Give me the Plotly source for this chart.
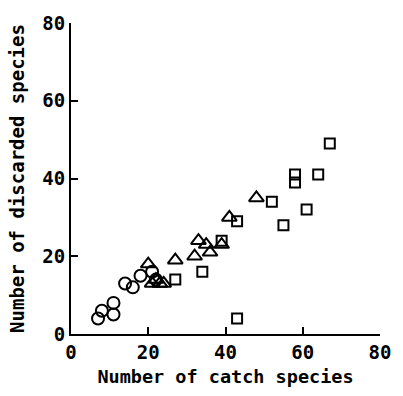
import plotly.graph_objects as go

# Circles
circ_x = [7, 8, 11, 11, 14, 16, 18, 21, 22]
circ_y = [4, 6, 5, 8, 13, 12, 15, 16, 14]
# Triangles
tri_x = [20, 21, 22, 23, 24, 27, 32, 33, 35, 36, 39, 41, 48]
tri_y = [18, 13, 14, 13, 13, 19, 20, 24, 23, 21, 23, 30, 35]
# Squares
sq_x = [27, 34, 39, 43, 43, 52, 55, 58, 58, 61, 64, 67]
sq_y = [14, 16, 24, 29, 4, 34, 28, 41, 39, 32, 41, 49]

x_ticks = [0, 20, 40, 60, 80]
y_ticks = [0, 20, 40, 60, 80]

FONT = "DejaVu Sans Mono"

fig = go.Figure()
fig.add_trace(go.Scatter(x=circ_x, y=circ_y, mode="markers",
                         marker=dict(symbol="circle-open", size=12, color="black", line=dict(width=2))))
fig.add_trace(go.Scatter(x=tri_x, y=tri_y, mode="markers",
                         marker=dict(symbol="triangle-up-open", size=13, color="black", line=dict(width=2))))
fig.add_trace(go.Scatter(x=sq_x, y=sq_y, mode="markers",
                         marker=dict(symbol="square-open", size=10, color="black", line=dict(width=2))))

axis_common = dict(range=[0, 80], showline=True, linewidth=2, linecolor="black",
                   ticks="inside", ticklen=7, tickwidth=2, tickcolor="black",
                   showgrid=False, zeroline=False,
                   tickfont=dict(family=FONT, size=19, color="black", weight="bold"))
fig.update_xaxes(**axis_common, tickvals=x_ticks,
                 title=dict(text="Number of catch species", font=dict(family=FONT, size=18.5, color="black", weight="bold"), standoff=8))
fig.update_yaxes(**axis_common, tickvals=y_ticks,
                 title=dict(text="Number of discarded species", font=dict(family=FONT, size=19, color="black", weight="bold"), standoff=13))

fig.update_layout(width=403, height=396, showlegend=False,
                  margin=dict(l=71, r=17, t=20, b=61),
                  plot_bgcolor="white", paper_bgcolor="white")
fig.write_html("out.html")
